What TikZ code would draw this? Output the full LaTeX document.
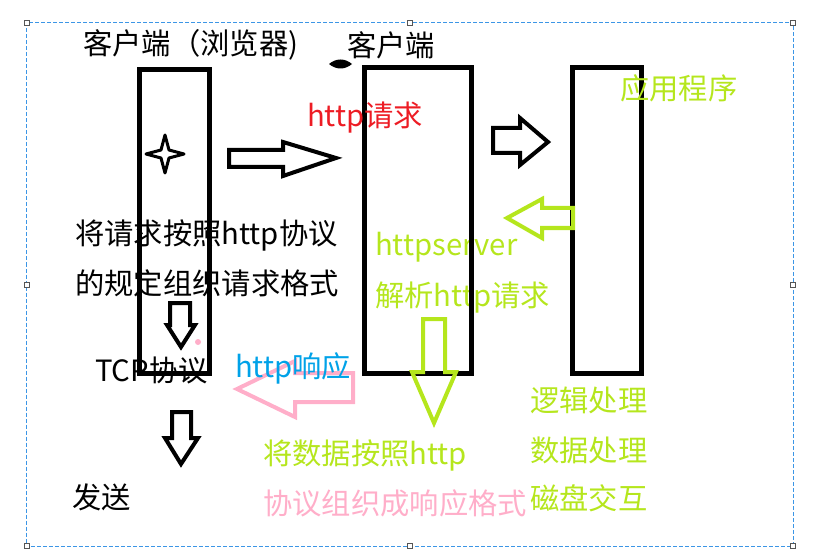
\documentclass[tikz,border=0pt]{standalone}
\usepackage{fontspec}
\setmainfont{Noto Sans CJK SC}
\definecolor{selblue}{HTML}{3C96E6}
\definecolor{handlegray}{HTML}{555555}
\definecolor{pred}{HTML}{ED1C24}
\definecolor{plime}{HTML}{B5E61D}
\definecolor{pblue}{HTML}{00A2E8}
\definecolor{ppink}{HTML}{FFAEC9}
\tikzset{
  lbl/.style={anchor=west, inner sep=0pt, font=\fontsize{29.3}{35}\selectfont},
  column/.style={draw=black, line width=5pt, line join=miter},
  blkarrow/.style={draw=black, line width=4pt, line join=miter},
  limearrow/.style={draw=plime, line width=4pt, line join=miter},
  pinkarrow/.style={draw=ppink, line width=4pt, line join=miter},
  handle/.style={draw=handlegray, fill=white, line width=0.8pt, minimum size=5pt, inner sep=0pt, shape=rectangle},
}
\begin{document}
\begin{tikzpicture}[x=1pt, y=-1pt]
\useasboundingbox (0,0) rectangle (819,556);

% selection frame with its handles
\draw[selblue, line width=1pt, dash pattern=on 4pt off 2pt] (26.5,22.5) rectangle (793,546);
\foreach \hx/\hy/\hn in {26.5/22.5/h1, 410/22.5/h2, 793/22.5/h3, 26.5/285/h4, 793/285/h5, 26.5/546/h6, 410/546/h7, 793/546/h8}
  \node[handle] (\hn) at (\hx,\hy) {};

% browser and application columns
\draw[column] (139.5,70) rectangle (209,373);
\draw[column] (572,68) rectangle (641,373);

% server text sits under the server column outline
\node[lbl, text=plime] (tsrv1) at (375,247) {httpserver};
\node[lbl, text=plime] (tsrv2) at (375,298) {解析http请求};

% server column
\draw[column] (364.5,68) rectangle (471,373);

% four-point star inside the browser column
\draw[black, line width=3pt, line join=round]
  (165,135) -- (169,150) -- (184,154) -- (169,158) -- (165,173)
  -- (161,158) -- (146,154) -- (161,150) -- cycle;

% small ink blot near the top
\fill[black] (329,64) .. controls (336,58) and (345,58) .. (352,64)
  .. controls (345,70) and (336,70) .. (329,64) -- cycle;

% pink dot
\fill[ppink] (198,342) circle (3pt);

% hollow block arrows
\draw[blkarrow] (229,150) -- (283,150) -- (283,142) -- (336,158) -- (283,176) -- (283,167) -- (229,167) -- cycle;
\draw[blkarrow] (493,128) -- (520,128) -- (520,118) -- (548,142) -- (520,165) -- (520,153) -- (493,153) -- cycle;
\draw[blkarrow] (170,303) -- (190,303) -- (190,325) -- (195,325) -- (181,347) -- (167,325) -- (170,325) -- cycle;
\draw[blkarrow] (172,412) -- (191,412) -- (191,438) -- (198,438) -- (181,464) -- (165,438) -- (172,438) -- cycle;
\draw[limearrow] (573,208) -- (542,208) -- (542,199) -- (507,218) -- (542,238) -- (542,228) -- (573,228) -- cycle;
\draw[limearrow] (423,319) -- (445,319) -- (445,372) -- (456,372) -- (434,423) -- (412,372) -- (423,372) -- cycle;
\draw[pinkarrow] (237,389) -- (295,361) -- (295,373) -- (353,373) -- (353,402) -- (295,402) -- (295,417) -- cycle;

% labels
\node[lbl] (tbrowser) at (83,45) {客户端（浏览器)};
\node[lbl] (tclient) at (347,45) {客户端};
\node[lbl, text=pred] (treq) at (307,118) {http请求};
\node[lbl, text=plime] (tapp) at (620,88) {应用程序};
\node[lbl] (tbuild1) at (75,235) {将请求按照http协议};
\node[lbl] (tbuild2) at (75,283) {的规定组织请求格式};
\node[lbl] (ttcp) at (95,370) {TCP协议};
\node[lbl, text=pblue] (tresp) at (235,368) {http响应};
\node[lbl, text=plime] (tlogic) at (530,400) {逻辑处理};
\node[lbl, text=plime] (tdata) at (530,450) {数据处理};
\node[lbl, text=plime] (tdisk) at (530,498) {磁盘交互};
\node[lbl, text=plime] (tpack1) at (263,455) {将数据按照http};
\node[lbl, text=ppink] (tpack2) at (263,503) {协议组织成响应格式};
\node[lbl] (tsend) at (72,497) {发送};
\end{tikzpicture}
\end{document}
